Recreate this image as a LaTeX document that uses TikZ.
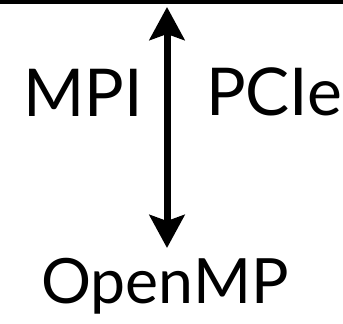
\documentclass[tikz,border=0pt]{standalone}
\usepackage{fontspec}
\setmainfont{Lato}
\usetikzlibrary{arrows.meta}
\begin{document}
\begin{tikzpicture}[x=1pt,y=-1pt,
  lbl/.style={font=\fontsize{66}{66}\selectfont, inner sep=0pt, anchor=base west},
  link/.style={line width=7pt, {Stealth[length=33pt,width=35pt,inset=6pt]}-{Stealth[length=33pt,width=35pt,inset=6pt]}}]
  \useasboundingbox (0,0) rectangle (343,324);
  % dark strip along the top edge
  \node[fill=black, minimum width=343pt, minimum height=3.5pt, inner sep=0pt, outer sep=0pt, anchor=north west] (bar) at (0,0) {};
  \node[lbl] (mpi) at (23,116) {MPI};
  \node[lbl] (pcie) at (206,115) {PCIe};
  \node[lbl, font=\fontsize{62.5}{62.5}\selectfont] (omp) at (41,303) {OpenMP};
  % ends of the two-headed arrow
  \coordinate (top) at (167,7);
  \coordinate (bot) at (167,248);
  \draw[link] (top) -- (bot);
\end{tikzpicture}
\end{document}
